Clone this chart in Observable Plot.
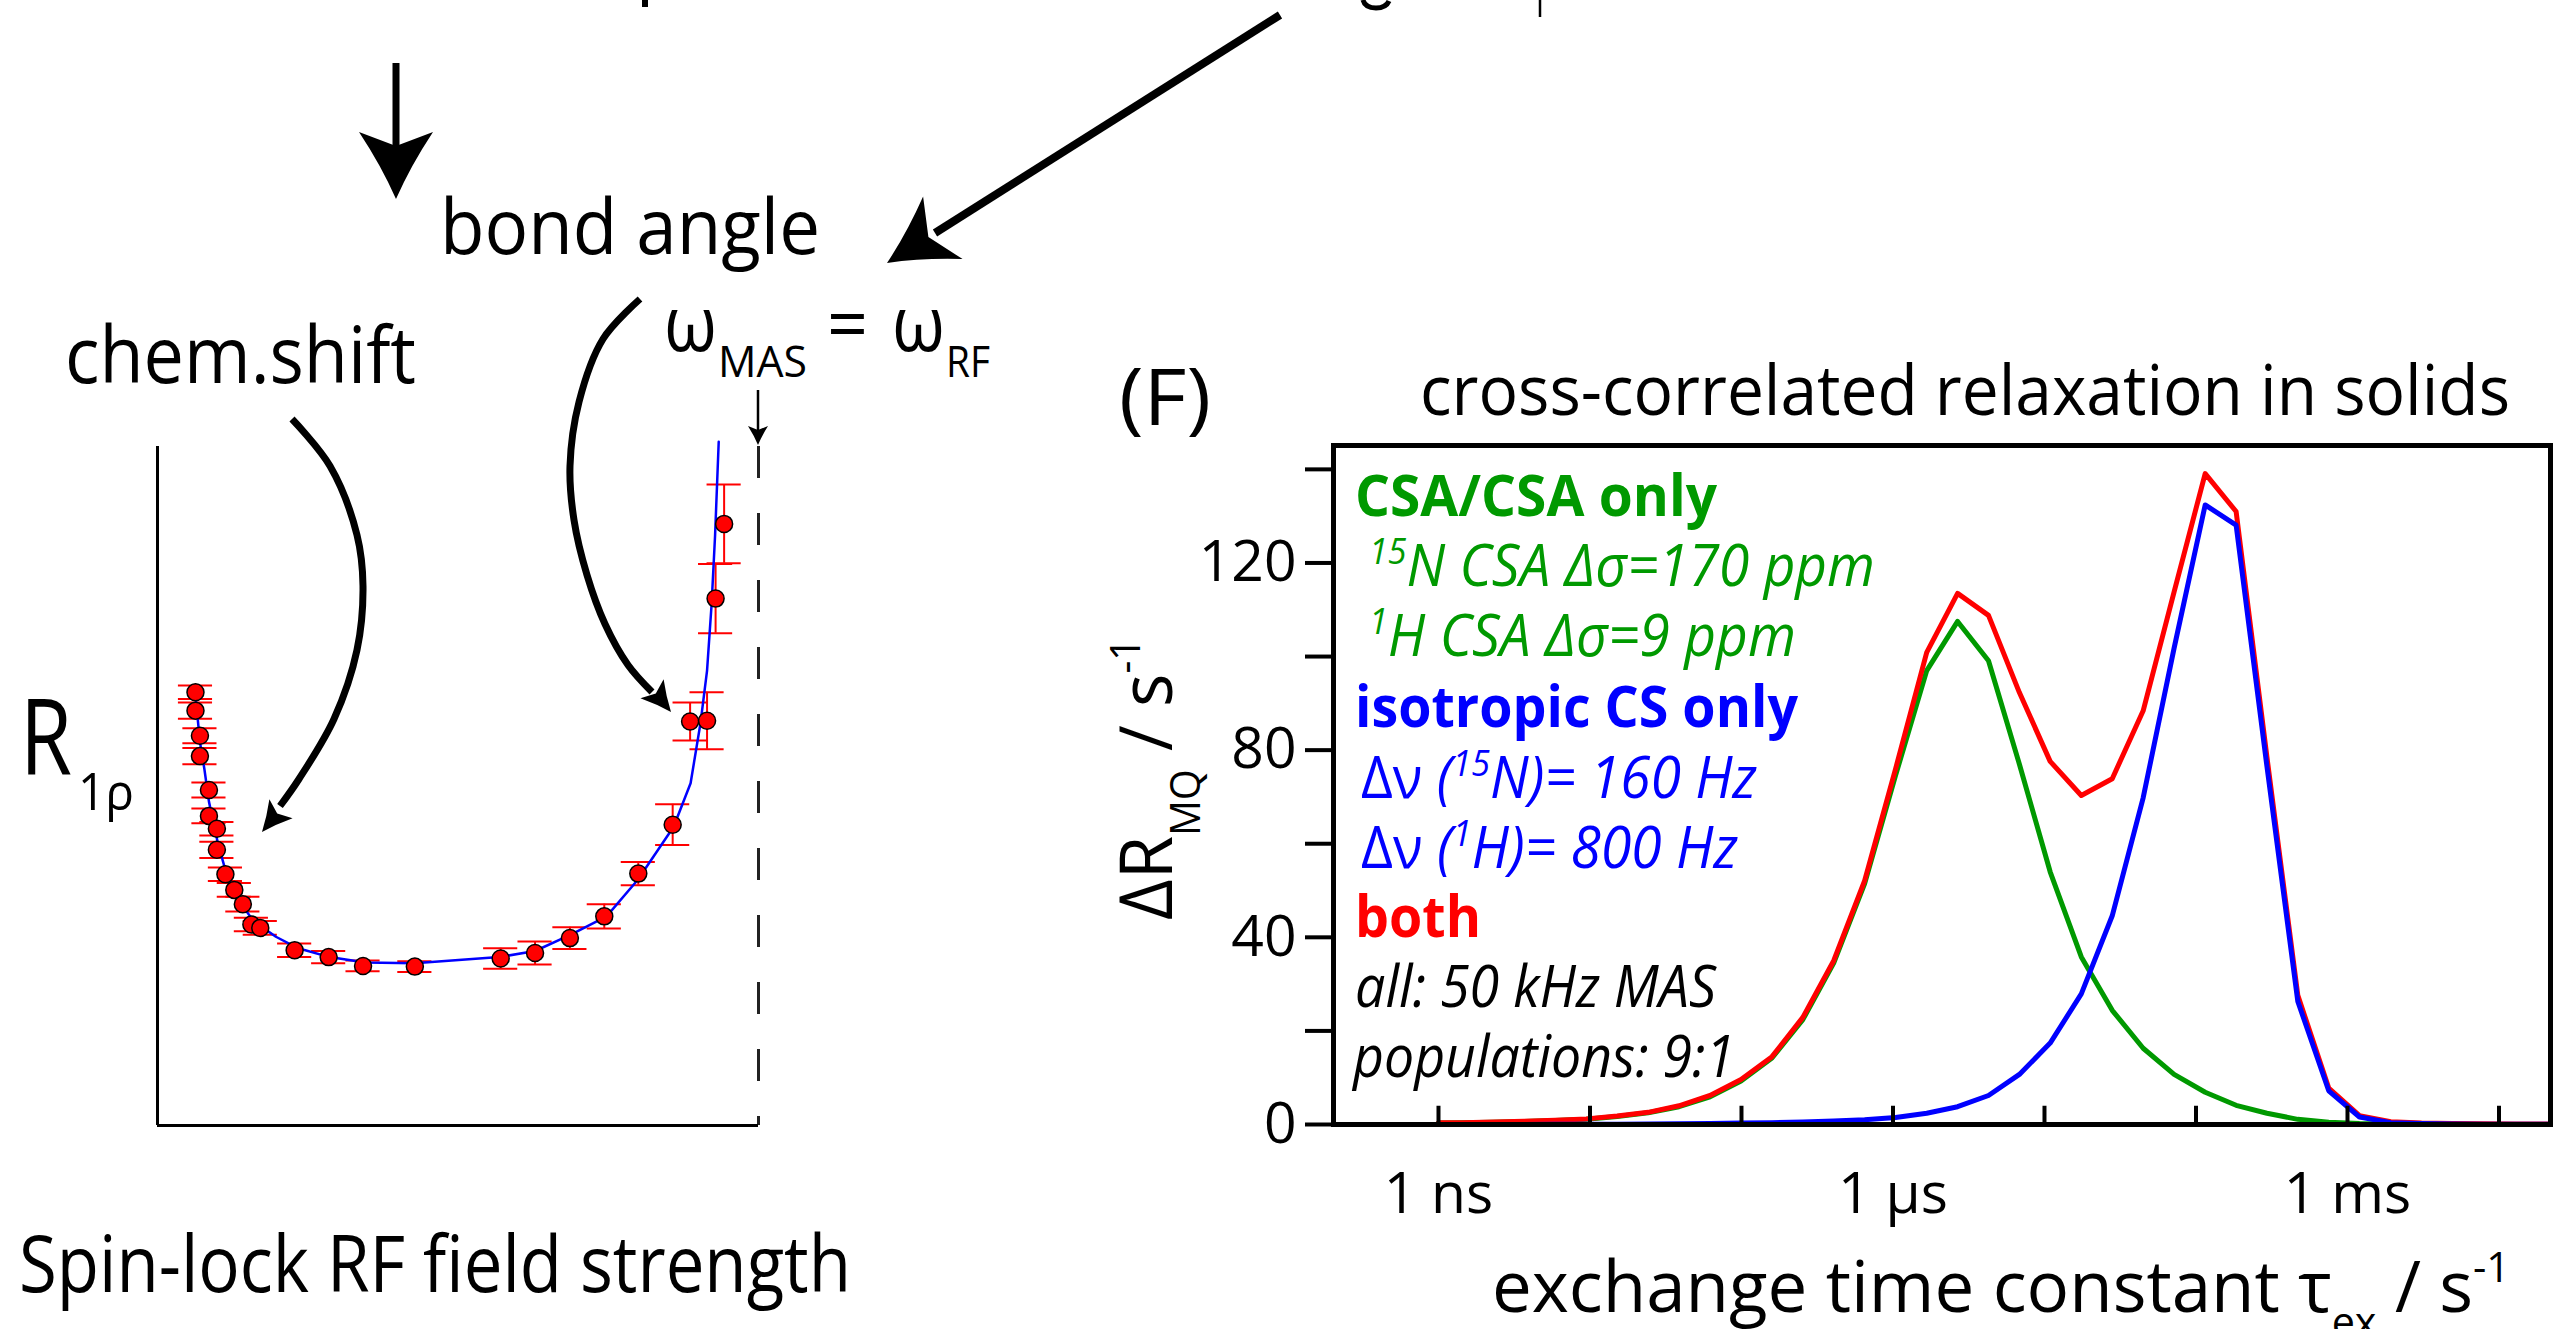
<!DOCTYPE html>
<html><head><meta charset="utf-8">
<script src="https://cdn.jsdelivr.net/npm/d3@7"></script>
<script src="https://cdn.jsdelivr.net/npm/@observablehq/plot@0.6"></script>
<style>
html,body{margin:0;padding:0;background:#fff;}
#wrap{position:relative;width:2556px;height:1329px;overflow:hidden;background:#fff;font-family:"Open Sans",sans-serif;}
.layer{position:absolute;top:0;}
text{white-space:pre;}
</style></head><body><div id="wrap"></div>
<script>
// ---------- left panel: R1rho dispersion (arbitrary units) ----------
const rfField = [3.16, 3.16, 3.53, 3.53, 4.28, 4.28, 4.94, 4.94, 5.65, 6.39, 7.10, 7.81, 8.55, 11.41, 14.24, 17.10, 21.41, 28.55, 31.41, 34.31, 37.17, 40.00, 42.86, 44.31, 45.72, 46.43, 47.14];
const r1rho = [63.8, 61.1, 57.4, 54.4, 49.4, 45.6, 43.7, 40.6, 37.0, 34.7, 32.6, 29.6, 29.1, 25.8, 24.8, 23.5, 23.4, 24.6, 25.4, 27.6, 30.8, 37.1, 44.3, 59.5, 59.6, 77.6, 88.6];
const r1rhoErr = [1.0, 1.2, 1.1, 1.2, 1.1, 1.1, 1.0, 1.2, 1.0, 1.0, 1.1, 1.0, 1.0, 1.0, 0.9, 0.8, 0.8, 1.5, 1.7, 1.6, 1.8, 1.7, 3.0, 2.8, 4.2, 5.1, 5.8];
const fitField = [3.16, 3.53, 3.90, 4.28, 5.02, 5.76, 6.88, 8.0, 9.85, 11.71, 14.31, 17.29, 21.38, 28.44, 31.41, 34.39, 37.36, 39.96, 42.94, 44.35, 45.17, 45.72, 46.10, 46.39, 46.69];
const fitR1rho = [63.3, 56.5, 52.5, 47.7, 41.6, 36.9, 32.8, 30.1, 27.8, 26.1, 24.8, 24.0, 23.9, 24.8, 25.7, 28.1, 30.8, 36.2, 44.0, 50.4, 59.2, 67.0, 76.8, 87.0, 100.7];
const mashField = 50; // omega_MAS = omega_RF position

// ---------- right panel (F): Delta R_MQ vs exchange time ----------
const tauEx = [1e-9, 1.44e-9, 2.31e-9, 3.69e-9, 5.90e-9, 9.46e-9, 1.51e-8, 2.42e-8, 3.87e-8, 6.20e-8, 9.93e-8, 1.59e-7, 2.54e-7, 4.06e-7, 6.50e-7, 1.04e-6, 1.67e-6, 2.67e-6, 4.27e-6, 6.83e-6, 1.09e-5, 1.75e-5, 2.80e-5, 4.48e-5, 7.17e-5, 1.15e-4, 1.84e-4, 2.94e-4, 4.70e-4, 7.52e-4, 1.20e-3, 1.93e-3, 3.08e-3, 4.93e-3, 7.89e-3, 1.26e-2, 2.02e-2, 3.24e-2];
const dRcsa = [0.3, 0.35, 0.5, 0.65, 0.85, 1.1, 1.7, 2.5, 3.8, 5.9, 9.3, 14.2, 22.4, 34.5, 51.5, 74.6, 97.0, 107.5, 99.1, 77.0, 54.0, 35.8, 24.4, 16.3, 10.7, 6.9, 4.1, 2.4, 1.1, 0.5, 0.2, 0.1, 0.05, 0.03, 0.02, 0.02, 0.02, 0.02];
const dRiso = [0, 0, 0, 0.02, 0.03, 0.05, 0.07, 0.1, 0.15, 0.2, 0.3, 0.4, 0.55, 0.75, 1.0, 1.5, 2.4, 3.8, 6.2, 10.7, 17.4, 27.9, 44.6, 69.8, 101.8, 132.4, 128.1, 76.5, 26.3, 7.2, 1.6, 0.4, 0.2, 0.1, 0.05, 0.03, 0.03, 0.03];
const dRboth = [0.35, 0.4, 0.55, 0.7, 0.9, 1.2, 1.8, 2.6, 4.0, 6.2, 9.6, 14.5, 22.9, 35.0, 52.1, 76.0, 100.9, 113.5, 108.8, 92.3, 77.6, 70.3, 73.9, 88.4, 113.8, 139.1, 131.0, 78.5, 27.6, 7.8, 1.9, 0.6, 0.3, 0.2, 0.15, 0.1, 0.1, 0.1];
const yTickValues = [0, 20, 40, 60, 80, 100, 120, 140];
const yTickLabels = ["0", "", "40", "", "80", "", "120", ""];
const xTickValues = [1e-9, 1e-6, 1e-3];
const xTickLabels = ["1 ns", "1 µs", "1 ms"];
const xDecadeTicks = [1e-9, 1e-8, 1e-7, 1e-6, 1e-5, 1e-4, 1e-3, 1e-2];

const FONT = '"Open Sans", sans-serif';
const GREEN = "#009900", BLUE = "#0000ff", RED = "#ff0000";
const wrap = d3.select("#wrap");

// ---------- left plot ----------
const pts = rfField.map((x, i) => ({x, y: r1rho[i], e: r1rhoErr[i]}));
const fit = fitField.map((x, i) => ({x, y: fitR1rho[i]}));
const capHalf = 1.42;
const leftPlot = Plot.plot({
  width: 900, height: 1329,
  marginLeft: 157, marginRight: 142, marginTop: 446, marginBottom: 204,
  x: {domain: [0, 50], axis: null},
  y: {domain: [0, 100], axis: null},
  style: {background: "transparent", maxWidth: "none", fontFamily: FONT},
  marks: [
    Plot.ruleX([mashField], {stroke: "#222", strokeWidth: 3, strokeDasharray: "32,35"}),
    Plot.ruleX([0], {stroke: "black", strokeWidth: 3}),
    Plot.ruleY([0], {stroke: "black", strokeWidth: 3}),
    Plot.ruleX(pts, {x: "x", y1: d => d.y - d.e, y2: d => d.y + d.e, stroke: RED, strokeWidth: 2}),
    Plot.ruleY(pts, {y: d => d.y + d.e, x1: d => d.x - capHalf, x2: d => d.x + capHalf, stroke: RED, strokeWidth: 2}),
    Plot.ruleY(pts, {y: d => d.y - d.e, x1: d => d.x - capHalf, x2: d => d.x + capHalf, stroke: RED, strokeWidth: 2}),
    Plot.line(fit, {x: "x", y: "y", stroke: BLUE, strokeWidth: 2.5}),
    Plot.dot(pts, {x: "x", y: "y", r: 8.5, fill: RED, stroke: "black", strokeWidth: 1.5})
  ]
});
const ldiv = wrap.append("div").attr("class", "layer").style("left", "0px");
ldiv.node().appendChild(leftPlot);

// ---------- right plot ----------
const rows = tauEx.map((t, i) => ({t, csa: dRcsa[i], iso: dRiso[i], both: dRboth[i]}));
const rightPlot = Plot.plot({
  width: 1456, height: 1329,
  marginLeft: 233, marginRight: 6, marginTop: 445, marginBottom: 205,
  x: {type: "log", domain: [Math.pow(10, -9.693), Math.pow(10, -1.660)]},
  y: {domain: [0, 145.1]},
  style: {background: "transparent", maxWidth: "none", fontFamily: FONT, fontSize: "57px", color: "black"},
  marks: [
    Plot.line(rows, {x: "t", y: "csa", stroke: GREEN, strokeWidth: 5, clip: true}),
    Plot.line(rows, {x: "t", y: "both", stroke: RED, strokeWidth: 5, clip: true}),
    Plot.line(rows, {x: "t", y: "iso", stroke: BLUE, strokeWidth: 5, clip: true}),
    Plot.ruleX(xDecadeTicks, {y1: 0, y2: 3.9, stroke: "black", strokeWidth: 4}),
    Plot.axisX({ticks: xTickValues, tickFormat: d => xTickLabels[xTickValues.indexOf(d)], tickSize: 0, tickPadding: 48, label: null}),
    Plot.axisY({ticks: yTickValues, tickFormat: d => yTickLabels[yTickValues.indexOf(d)], tickSize: 28, tickPadding: 9, strokeWidth: 4, label: null}),
    Plot.frame({stroke: "black", strokeWidth: 5})
  ]
});
const rdiv = wrap.append("div").attr("class", "layer").style("left", "1100px");
rdiv.node().appendChild(rightPlot);

// ---------- annotation overlay ----------
const svg = wrap.append("svg").attr("class", "layer").style("left", "0px")
  .attr("width", 2556).attr("height", 1329).style("pointer-events", "none");

function addText(x, y, parts, o = {}) {
  const t = svg.append("text").attr("x", x).attr("y", y)
    .attr("font-family", FONT).attr("font-size", o.size)
    .attr("fill", o.fill || "#000").attr("font-weight", o.weight || 400)
    .attr("font-style", o.italic ? "italic" : "normal");
  if (o.len) t.attr("textLength", o.len).attr("lengthAdjust", "spacingAndGlyphs");
  if (o.transform) t.attr("transform", o.transform);
  if (typeof parts === "string") t.text(parts);
  else for (const p of parts) {
    const s = t.append("tspan").text(p.t);
    if (p.size) s.attr("font-size", p.size);
    if (p.dy) s.attr("dy", p.dy);
    if (p.style) s.attr("font-style", p.style);
  }
  return t;
}
const P = p => `${p[0].toFixed(1)},${p[1].toFixed(1)}`;
function head(tip, dir, L, W, N) {
  const [tx, ty] = tip; const len = Math.hypot(dir[0], dir[1]);
  const dx = dir[0] / len, dy = dir[1] / len, nx = -dy, ny = dx;
  const bx = tx - L * dx, by = ty - L * dy;
  const c1 = [bx + W * nx, by + W * ny], c2 = [bx - W * nx, by - W * ny];
  const nt = [tx - (L - N) * dx, ty - (L - N) * dy];
  const m1 = [(tx + c1[0]) / 2 - 0.1 * W * nx, (ty + c1[1]) / 2 - 0.1 * W * ny];
  const m2 = [(tx + c2[0]) / 2 + 0.1 * W * nx, (ty + c2[1]) / 2 + 0.1 * W * ny];
  svg.append("path").attr("fill", "black")
    .attr("d", `M${P(tip)} Q${P(m1)} ${P(c1)} L${P(nt)} L${P(c2)} Q${P(m2)} ${P(tip)} Z`);
}
function seg(x1, y1, x2, y2, w) {
  svg.append("line").attr("x1", x1).attr("y1", y1).attr("x2", x2).attr("y2", y2)
    .attr("stroke", "black").attr("stroke-width", w);
}
function curve(points, w) {
  svg.append("path").attr("fill", "none").attr("stroke", "black").attr("stroke-width", w)
    .attr("d", d3.line().curve(d3.curveCatmullRom)(points));
}

// fragments of text cut off at the top edge
seg(645, 0, 645, 7, 6);
svg.append("path").attr("fill", "none").attr("stroke", "black").attr("stroke-width", 5)
  .attr("d", "M1363,0 Q1365,8 1376,8 Q1386,8 1389,1");
seg(1540, 0, 1540, 17, 2.5);

// straight arrows
seg(396, 63, 396, 150, 7);
head([396, 199], [0, 1], 67, 37, 14);
seg(1280, 15, 935, 233, 8);
head([887, 263], [-393, 248], 66, 37, 17);
seg(758, 390, 758, 432, 2.5);
head([758, 445], [0, 1], 19, 10, 4);

// curved arrows
curve([[292, 419], [330, 466], [357, 535], [363, 586], [357, 650], [334, 719], [299, 779], [280, 806]], 7);
head([262, 832], [-18, 22], 30, 15, 6);
curve([[640, 299], [603, 339], [579, 402], [570, 466], [574, 520], [587, 575], [605, 624], [628, 665], [652, 692]], 7);
head([671, 712], [18, 22], 30, 15, 6);

// left texts
addText(440, 254, "bond angle", {size: 76, len: 380});
addText(65, 383, "chem.shift", {size: 78, len: 351});
addText(664, 351, "ω", {size: 76, len: 53});
addText(718, 377, "MAS", {size: 44, len: 89});
addText(827, 351, "=", {size: 76, len: 41});
addText(892, 351, "ω", {size: 76, len: 53});
addText(946, 377, "RF", {size: 44, len: 44});
addText(20, 775, "R", {size: 106, len: 52});
addText(78, 810, "1ρ", {size: 52, len: 56});
addText(19, 1292, "Spin-lock RF field strength", {size: 78, len: 832});

// right texts
addText(1119, 425, "(F)", {size: 78, len: 92});
addText(1420, 415, "cross-correlated relaxation in solids", {size: 70, len: 1090});
addText(1355, 516, "CSA/CSA only", {size: 58, weight: 700, fill: GREEN, len: 362});
addText(1369, 586, [{t: "15", size: 36, dy: -22}, {t: "N CSA Δσ=170 ppm", size: 58, dy: 22}], {size: 58, italic: true, fill: GREEN, len: 506});
addText(1369, 656, [{t: "1", size: 36, dy: -22}, {t: "H CSA Δσ=9 ppm", size: 58, dy: 22}], {size: 58, italic: true, fill: GREEN, len: 427});
addText(1355, 727, "isotropic CS only", {size: 58, weight: 700, fill: BLUE, len: 443});
addText(1361, 798, [{t: "Δν", style: "normal"}, {t: " ("}, {t: "15", size: 36, dy: -22}, {t: "N)= 160 Hz", size: 58, dy: 22}], {size: 58, italic: true, fill: BLUE, len: 396});
addText(1361, 868, [{t: "Δν", style: "normal"}, {t: " ("}, {t: "1", size: 36, dy: -22}, {t: "H)= 800 Hz", size: 58, dy: 22}], {size: 58, italic: true, fill: BLUE, len: 377});
addText(1355, 937, "both", {size: 58, weight: 700, fill: RED, len: 126});
addText(1355, 1007, "all: 50 kHz MAS", {size: 58, italic: true, len: 361});
addText(1353, 1077, "populations: 9:1", {size: 58, italic: true, len: 382});

// axis titles with sub/superscripts
addText(0, 0, [{t: "ΔR"}, {t: "MQ", size: 42, dy: 28}, {t: " / s", size: 74, dy: -28}, {t: "-1", size: 42, dy: -32}],
  {size: 74, len: 282, transform: "translate(1172,920) rotate(-90)"});
addText(1492, 1312, [{t: "exchange time constant τ"}, {t: "ex", size: 42, dy: 25}, {t: " / s", size: 72, dy: -25}, {t: "-1", size: 42, dy: -30}],
  {size: 72, len: 1018});
</script></body></html>
